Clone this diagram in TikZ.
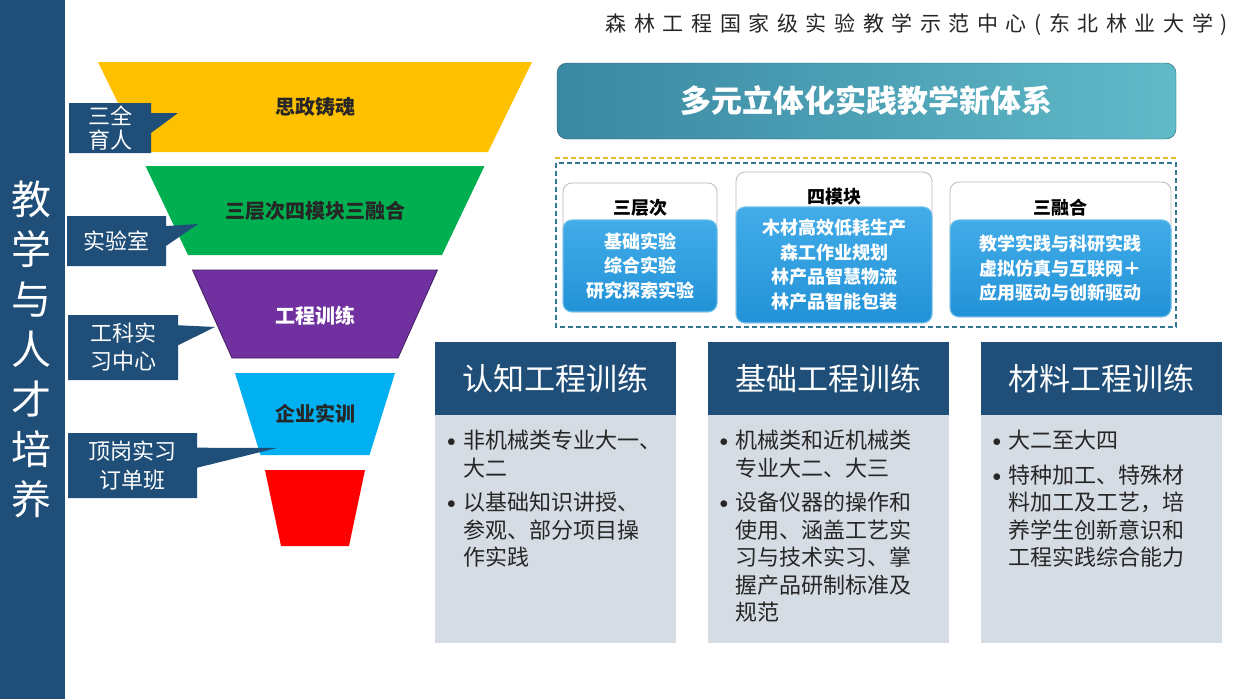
\documentclass[tikz,border=0pt]{standalone}
\usepackage{fontspec}
\setmainfont{Noto Sans CJK SC}
\usetikzlibrary{shapes.callouts,positioning}
\definecolor{navy}{RGB}{31,78,121}
\definecolor{funyellow}{RGB}{255,192,0}
\definecolor{fungreen}{RGB}{0,176,80}
\definecolor{funpurple}{RGB}{112,48,160}
\definecolor{funcyan}{RGB}{0,176,240}
\definecolor{funred}{RGB}{255,0,0}
\definecolor{tealdark}{RGB}{58,136,162}
\definecolor{teallight}{RGB}{96,186,200}
\definecolor{modblue}{RGB}{34,146,215}
\definecolor{modtop}{RGB}{66,172,232}
\definecolor{modbluelight}{RGB}{120,195,238}
\definecolor{cardgray}{RGB}{214,220,228}
\definecolor{dashgold}{RGB}{232,190,40}
\definecolor{dashteal}{RGB}{52,120,150}
\definecolor{textdark}{RGB}{38,38,38}
\newcommand{\bitem}{\makebox[16pt][l]{\raisebox{2pt}{\fontsize{17}{17}\selectfont$\bullet$}}}
\newcommand{\bcont}{\hspace*{16pt}}
\tikzset{
  funtext/.style={font=\fontsize{20}{20}\selectfont\bfseries, text=textdark},
  tag/.style={rectangle callout, fill=navy, text=white, inner sep=0pt, align=center,
    callout pointer width=20pt, font=\fontsize{22}{26}\selectfont},
  modcard/.style={draw=gray!55, fill=white, rounded corners=9pt, line width=0.8pt},
  modbody/.style={top color=modtop, bottom color=modblue, draw=modbluelight, line width=1pt, rounded corners=9pt,
    text=white, align=center, font=\fontsize{18}{24.5}\selectfont\bfseries},
  modhead/.style={font=\fontsize{18}{18}\selectfont\bfseries, text=black},
  trainhead/.style={fill=navy, text=white, minimum width=241pt, minimum height=73pt,
    inner sep=0pt, font=\fontsize{31}{31}\selectfont},
  trainbody/.style={fill=cardgray, minimum width=241pt, minimum height=228pt, inner sep=0pt},
  traintext/.style={anchor=north west, inner sep=0pt, align=left, text=textdark,
    font=\fontsize{22}{27.5}\selectfont},
}
\begin{document}
\begin{tikzpicture}[x=1pt,y=-1pt]
    \useasboundingbox (0,0) rectangle (1238,699);
    \fill[white] (0,0) rectangle (1238,699);
    \fill[navy] (0,0) rectangle (65,699);
    \node[text=white, align=center, font=\fontsize{40}{50}\selectfont] (side) at (31,349)
        {教\\学\\与\\人\\才\\培\\养};
    \node[anchor=east, inner sep=0pt, text=textdark, font=\fontsize{21}{21}\selectfont] (title) at (1228,25)
        {\makebox[622pt][s]{森 林 工 程 国 家 级 实 验 教 学 示 范 中 心 ( 东 北 林 业 大 学 )}};

    \foreach \yt/\yb/\wt/\wb/\c in {62/152/217/173/funyellow, 166/255/169.5/127/fungreen,
        270/358/122.5/83/funpurple, 373/455/80/54.5/funcyan, 470/546/50/34/funred} {
        \fill[\c] ({315-\wt},\yt) -- ({315+\wt},\yt) -- ({315+\wb},\yb) -- ({315-\wb},\yb) -- cycle;
    }
    \draw[funpurple!60!black, line width=0.8pt] (192.5,270) -- (437.5,270) -- (398,358) -- (232,358) -- cycle;
    \node[funtext] (lay1) at (315,107) {思政铸魂};
    \node[funtext] (lay2) at (315,211) {三层次四模块三融合};
    \node[funtext, text=white] (lay3) at (315,316) {工程训练};
    \node[funtext] (lay4) at (315,414) {企业实训};

    \coordinate (p1) at (178,113);
    \coordinate (p2) at (198,224);
    \coordinate (p3) at (215,327);
    \coordinate (p4) at (277,448);
    \node[tag, minimum width=82pt, minimum height=50pt, callout absolute pointer={(p1)},
        font=\fontsize{22}{24}\selectfont] (tag1) at (110,128) {三全\\育人};
    \node[tag, minimum width=99pt, minimum height=50pt, callout absolute pointer={(p2)}] (tag2) at (116.5,241) {实验室};
    \node[tag, minimum width=110pt, minimum height=65pt, callout absolute pointer={(p3)},
        font=\fontsize{22}{28}\selectfont] (tag3) at (123,347.5) {工科实\\习中心};
    \node[tag, minimum width=129pt, minimum height=65pt, callout absolute pointer={(p4)},
        font=\fontsize{22}{29}\selectfont] (tag4) at (132.5,465.5) {顶岗实习\\订单班};

    \node[draw=tealdark!70!black, left color=tealdark, right color=teallight, rounded corners=10pt,
        minimum width=619pt, minimum height=76pt, text=white, font=\fontsize{31}{31}\selectfont\bfseries]
        (banner) at (866.5,101) {多元立体化实践教学新体系};
    \draw[dashgold, line width=1.5pt, dash pattern=on 5pt off 3pt] (555,158) -- (1178,158);
    \draw[dashteal, line width=1.2pt, dash pattern=on 5pt off 3pt] (556,163) rectangle (1176,327);

    \node[modcard, minimum width=154pt, minimum height=129pt] (mod1) at (640,247.5) {};
    \node[modbody, minimum width=154pt, minimum height=92pt, anchor=south] (body1) at (mod1.south)
        {基础实验\\综合实验\\研究探索实验};
    \node[modhead] (head1) at (640,208) {三层次};
    \node[modcard, minimum width=196pt, minimum height=151pt] (mod2) at (834,247.5) {};
    \node[modbody, minimum width=196pt, minimum height=116pt, anchor=south] (body2) at (mod2.south)
        {木材高效低耗生产\\森工作业规划\\林产品智慧物流\\林产品智能包装};
    \node[modhead] (head2) at (834,197) {四模块};
    \node[modcard, minimum width=221pt, minimum height=135pt] (mod3) at (1060.5,249.5) {};
    \node[modbody, minimum width=221pt, minimum height=97pt, anchor=south] (body3) at (mod3.south)
        {教学实践与科研实践\\虚拟仿真与互联网＋\\应用驱动与创新驱动};
    \node[modhead] (head3) at (1060.5,208) {三融合};

    \node[trainhead] (train1) at (555.5,378.5) {认知工程训练};
    \node[trainbody, below=0pt of train1] (card1) {};
    \node[traintext] (text1) at ([xshift=12pt,yshift=-15pt]card1.north west)
        {\bitem 非机械类专业大一、\\ \bcont 大二\\[7pt] \bitem 以基础知识讲授、\\ \bcont 参观、部分项目操\\ \bcont 作实践};
    \node[trainhead] (train2) at (828,378.5) {基础工程训练};
    \node[trainbody, below=0pt of train2] (card2) {};
    \node[traintext] (text2) at ([xshift=12pt,yshift=-15pt]card2.north west)
        {\bitem 机械类和近机械类\\ \bcont 专业大二、大三\\[7pt] \bitem 设备仪器的操作和\\ \bcont 使用、涵盖工艺实\\
         \bcont 习与技术实习、掌\\ \bcont 握产品研制标准及\\ \bcont 规范};
    \node[trainhead] (train3) at (1101,378.5) {材料工程训练};
    \node[trainbody, below=0pt of train3] (card3) {};
    \node[traintext] (text3) at ([xshift=12pt,yshift=-15pt]card3.north west)
        {\bitem 大二至大四\\[7pt] \bitem 特种加工、特殊材\\ \bcont 料加工及工艺，培\\ \bcont 养学生创新意识和\\
         \bcont 工程实践综合能力};
\end{tikzpicture}
\end{document}
